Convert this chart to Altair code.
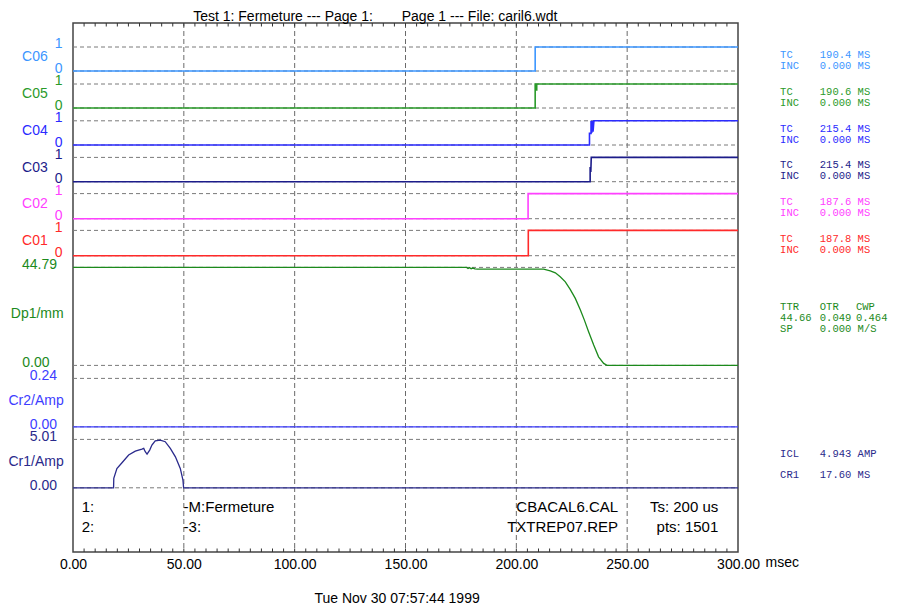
import altair as alt
import pandas as pd

# ---------------- data ----------------
x_ticks = [0, 50, 100, 150, 200, 250, 300]
grid_times = [50, 100, 150, 200, 250]
minor_times = list(range(5, 300, 5))

dig_names = ["C06", "C05", "C04", "C03", "C02", "C01"]
dig_colors = ["#3c96ff", "#2a9a2a", "#2b2bff", "#1c1c8a", "#ff40ff", "#ff2a2a"]
dig_tc = ["190.4", "190.6", "215.4", "215.4", "187.6", "187.8"]
dig_inc = ["0.000", "0.000", "0.000", "0.000", "0.000", "0.000"]

c06_t = [0, 208.5, 208.5, 300]
c06_v = [0, 0, 1, 1]
c05_t = [0, 208.5, 208.5, 208.9, 208.9, 209.2, 209.2, 300]
c05_v = [0, 0, 1, 1, 0.75, 0.75, 1, 1]
c04_t = [0, 233.0, 233.0, 233.7, 233.7, 234.0, 234.3, 234.6, 235.0, 300]
c04_v = [0, 0, 0.48, 0.48, 1, 0.5, 1, 0.55, 1, 1]
c03_t = [0, 233.3, 233.3, 233.6, 233.8, 300]
c03_v = [0, 0, 0.6, 0.4, 1, 1]
c02_t = [0, 205.3, 205.3, 300]
c02_v = [0, 0, 1, 1]
c01_t = [0, 205.4, 205.4, 300]
c01_v = [0, 0, 1, 1]
dig_t = [c06_t, c05_t, c04_t, c03_t, c02_t, c01_t]
dig_v = [c06_v, c05_v, c04_v, c03_v, c02_v, c01_v]

dp1_t = [0, 177.6, 178.2, 178.9, 179.6, 180.4, 181.3, 182.5, 212.3, 215.3, 217.6,
         219.8, 222.1, 224.3, 226.6, 228.9, 230.7, 232.6, 234.9, 237.1, 239.4, 240.9, 300]
dp1_v = [44.79, 44.79, 44.3, 44.7, 44.2, 44.5, 44.1, 44.0, 44.0, 43.24, 42.32,
         40.49, 38.21, 34.73, 30.62, 25.27, 20.70, 15.36, 9.28, 3.93, 0.91, 0, 0]
dp1_max = 44.79

cr2_t = [0, 300]
cr2_v = [0, 0]
cr2_max = 0.24

cr1_t = [0, 18.3, 18.4, 19.8, 22.1, 25.1, 28.1, 31.1, 31.9, 32.6, 33.4, 34.6, 35.6,
         37.1, 39.4, 41.6, 43.9, 46.2, 48.4, 49.6, 49.9, 300]
cr1_v = [0, 0, 0.97, 2.0, 2.59, 3.39, 3.80, 4.01, 4.08, 3.73, 3.49, 3.90, 4.42,
         4.87, 4.94, 4.77, 4.08, 3.21, 2.0, 0.79, 0, 0]
cr1_max = 5.01

ana_names = ["Dp1/mm", "Cr2/Amp", "Cr1/Amp"]
ana_colors = ["#1c8a1c", "#3d3dff", "#2a2a8c"]
ana_top_labels = ["44.79", "0.24", "5.01"]
ana_bot_labels = ["0.00", "0.00", "0.00"]

title_left = "Test 1: Fermeture --- Page 1:"
title_right = "Page 1 --- File: caril6.wdt"
date_text = "Tue Nov 30 07:57:44 1999"
info_left = [["1:", "-M:Fermeture"], ["2:", "-3:"]]
info_right = [["CBACAL6.CAL", "Ts: 200 us"], ["TXTREP07.REP", "pts: 1501"]]

# ---------------- layout (px from plot top; x in ms) ----------------
PW, PH = 665, 529
dig_rows = [(24.0, 48.0), (61.0, 85.0), (97.8, 122.0), (134.4, 158.7),
            (170.6, 195.7), (207.4, 232.7)]
ana_rows = [(244.4, 342.4), (355.4, 403.8), (416.4, 464.8)]

X_NAME, X_VAL, X_DP1BOT = -11.4, -4.7, -10.6
X_ANA_NAME, X_ANA_VAL = -4.2, -7.2
X_R1, X_R2, X_R3 = 319.0, 336.9, 353.2

xs = alt.Scale(domain=[0, 300], nice=False, zero=False)
ys = alt.Scale(domain=[0, PH], nice=False, zero=False, reverse=True)
X = alt.X("t:Q", scale=xs, axis=alt.Axis(values=x_ticks, format=".2f", labelFont="Liberation Sans",
                                          labelFontSize=14, labelColor="#000000", ticks=False,
                                          domain=False, grid=False, title=None, labelPadding=5,
                                          labelFlush=False, labelOverlap=False))
Y = alt.Y("y:Q", scale=ys, axis=None)

# lines
rows = []
series_specs = []
for name, col, (hi, lo), ts, vs in zip(dig_names, dig_colors, dig_rows, dig_t, dig_v):
    series_specs.append((name, col, hi, lo, 1.0, ts, vs, 1.6))
for name, col, (hi, lo), ts, vs, vmax in zip(ana_names, ana_colors, ana_rows,
                                            [dp1_t, cr2_t, cr1_t], [dp1_v, cr2_v, cr1_v],
                                            [dp1_max, cr2_max, cr1_max]):
    series_specs.append((name, col, hi, lo, vmax, ts, vs, 1.3))
for name, col, hi, lo, vmax, ts, vs, sw in series_specs:
    for i, (t, v) in enumerate(zip(ts, vs)):
        rows.append({"series": name, "t": t, "y": lo - (lo - hi) * v / vmax,
                     "color": col, "idx": i, "sw": sw})
lines_df = pd.DataFrame(rows)

# dashed horizontal reference lines
href = []
for hi, lo in dig_rows + ana_rows:
    href.append({"t": 0, "t2": 300, "y": hi})
    href.append({"t": 0, "t2": 300, "y": lo})
href_df = pd.DataFrame(href)

grid_df = pd.DataFrame({"t": grid_times, "y": [0] * len(grid_times), "y2": [PH] * len(grid_times)})
ticks_df = pd.DataFrame([{"t": t, "y": 0, "y2": 3.5} for t in minor_times] +
                        [{"t": t, "y": PH - 3.5, "y2": PH} for t in minor_times])

# texts
left_txt = []
for name, col, (hi, lo) in zip(dig_names, dig_colors, dig_rows):
    left_txt.append({"t": X_NAME, "y": (hi + lo) / 2 - 2, "text": name, "color": col})
    left_txt.append({"t": X_VAL, "y": hi - 2.6, "text": "1", "color": col})
    left_txt.append({"t": X_VAL, "y": lo - 2.4, "text": "0", "color": col})
for k, (name, col, (hi, lo), tl, bl) in enumerate(zip(ana_names, ana_colors, ana_rows,
                                                      ana_top_labels, ana_bot_labels)):
    left_txt.append({"t": X_ANA_NAME, "y": (hi + lo) / 2 - 2, "text": name, "color": col})
    left_txt.append({"t": X_ANA_VAL, "y": hi - 2.5, "text": tl, "color": col})
    left_txt.append({"t": X_DP1BOT if k == 0 else X_ANA_VAL, "y": lo - 2.3, "text": bl, "color": col})
left_df = pd.DataFrame(left_txt)

right_txt = []
for col, (hi, lo), tc, inc in zip(dig_colors, dig_rows, dig_tc, dig_inc):
    mid = (hi + lo) / 2
    right_txt += [{"t": X_R1, "y": mid - 4.3, "text": "TC", "color": col},
                  {"t": X_R2, "y": mid - 4.3, "text": tc + " MS", "color": col},
                  {"t": X_R1, "y": mid + 6.6, "text": "INC", "color": col},
                  {"t": X_R2, "y": mid + 6.6, "text": inc + " MS", "color": col}]
mid_dp = sum(ana_rows[0]) / 2
gcol = ana_colors[0]
right_txt += [{"t": X_R1, "y": mid_dp - 9, "text": "TTR", "color": gcol},
              {"t": X_R2, "y": mid_dp - 9, "text": "OTR", "color": gcol},
              {"t": X_R3, "y": mid_dp - 9, "text": "CWP", "color": gcol},
              {"t": X_R1, "y": mid_dp + 2, "text": "44.66", "color": gcol},
              {"t": X_R2, "y": mid_dp + 2, "text": "0.049", "color": gcol},
              {"t": X_R3, "y": mid_dp + 2, "text": "0.464", "color": gcol},
              {"t": X_R1, "y": mid_dp + 12.7, "text": "SP", "color": gcol},
              {"t": X_R2, "y": mid_dp + 12.7, "text": "0.000 M/S", "color": gcol}]
mid_c1 = sum(ana_rows[2]) / 2
ncol = ana_colors[2]
right_txt += [{"t": X_R1, "y": mid_c1 - 9.5, "text": "ICL", "color": ncol},
              {"t": X_R2, "y": mid_c1 - 9.5, "text": "4.943 AMP", "color": ncol},
              {"t": X_R1, "y": mid_c1 + 11.5, "text": "CR1", "color": ncol},
              {"t": X_R2, "y": mid_c1 + 11.5, "text": "17.60 MS", "color": ncol}]
right_df = pd.DataFrame(right_txt)

info_y = [483.7, 504.3]
info_l_df = pd.DataFrame([{"t": tx, "y": y, "text": s, "color": "#000000"}
                          for y, row in zip(info_y, info_left)
                          for tx, s in zip([3.9, 49.9], row)])
info_r_df = pd.DataFrame([{"t": tx, "y": y, "text": s, "color": "#000000"}
                          for y, row in zip(info_y, info_right)
                          for tx, s in zip([245.9, 291.1], row)])
title_l_df = pd.DataFrame([{"t": 135.3, "y": -2.5, "text": title_left, "color": "#000000"}])
title_r_df = pd.DataFrame([{"t": 148.3, "y": -2.5, "text": title_right, "color": "#000000"}])
msec_df = pd.DataFrame([{"t": 312.4, "y": 540, "text": "msec", "color": "#000000"}])
date_df = pd.DataFrame([{"t": 146.2, "y": 575.5, "text": date_text, "color": "#000000"}])


def text_layer(df, align="left", font="Liberation Sans", size=14, baseline="middle"):
    return alt.Chart(df).mark_text(align=align, baseline=baseline, font=font, fontSize=size).encode(
        x=X, y=Y, text="text:N", color=alt.Color("color:N", scale=None))


grid = alt.Chart(grid_df).mark_rule(color="#6a6a6a", strokeDash=[5, 3], strokeWidth=1).encode(
    x=X, y=Y, y2="y2:Q")
href_l = alt.Chart(href_df).mark_rule(color="#7a7a7a", strokeDash=[4, 3], strokeWidth=1).encode(
    x=X, x2="t2:Q", y=Y)
ticks = alt.Chart(ticks_df).mark_rule(color="#333333", strokeWidth=1).encode(x=X, y=Y, y2="y2:Q")
lines = alt.Chart(lines_df).mark_line(interpolate="linear").encode(
    x=X, y=Y, detail="series:N", order="idx:Q",
    color=alt.Color("color:N", scale=None),
    strokeWidth=alt.StrokeWidth("sw:Q", scale=None))

chart = alt.layer(
    grid, href_l, ticks, lines,
    text_layer(left_df, align="right"),
    text_layer(right_df, align="left", font="Liberation Mono", size=10.5),
    text_layer(info_l_df, align="left", size=15),
    text_layer(info_r_df, align="right", size=15),
    text_layer(title_l_df, align="right", baseline="alphabetic"),
    text_layer(title_r_df, align="left", baseline="alphabetic"),
    text_layer(msec_df, align="left"),
    text_layer(date_df, align="center"),
).properties(
    width=PW, height=PH,
    autosize=alt.AutoSizeParams(type="none"),
    padding={"left": 65, "top": 15, "right": 151, "bottom": 53},
    background="#ffffff",
).configure_view(stroke="#444444", strokeWidth=1.5)

chart.save("out.html", embed_options={"renderer": "svg", "actions": False})
